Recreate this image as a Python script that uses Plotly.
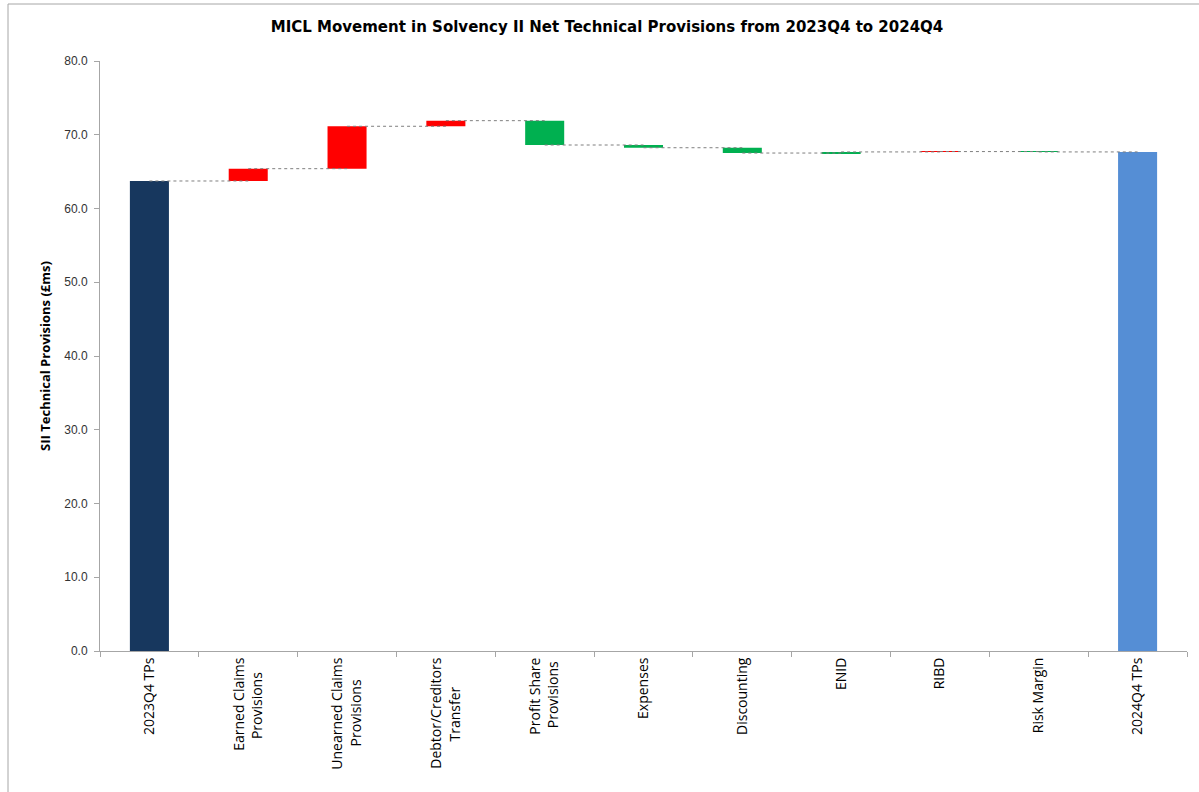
import plotly.graph_objects as go

# ---- data ----
categories = ["2023Q4 TPs", "Earned Claims|Provisions", "Unearned Claims|Provisions",
              "Debtor/Creditors|Transfer", "Profit Share|Provisions", "Expenses",
              "Discounting", "ENID", "RIBD", "Risk Margin", "2024Q4 TPs"]
start_value = 63.73
movements = [1.67, 5.75, 0.76, -3.30, -0.37, -0.72, 0.15, 0.05, -0.05]
movement_colors = ["#FF0000", "#FF0000", "#FF0000", "#00B050", "#00B050",
                   "#00B050", "#00B050", "#FF0000", "#00B050"]
start_color = "#17375E"
end_color = "#558ED5"
y_ticks = [0, 10, 20, 30, 40, 50, 60, 70, 80]

# padding (non-breaking spaces) so that two-line rotated labels appear centred
second_line_pad = [0, 4, 6, 8, 1, 0, 0, 0, 0, 0, 0]

def tick_label(lbl, pad):
    parts = lbl.split("|")
    if len(parts) == 1:
        return parts[0]
    return parts[0] + "<br>" + parts[1] + "\u00a0" * pad

tick_text = [tick_label(c, p) for c, p in zip(categories, second_line_pad)]

# ---- waterfall geometry from data ----
levels = [start_value]
for m in movements:
    levels.append(levels[-1] + m)
end_value = levels[-1]

bar_base, bar_height, bar_color = [0], [start_value], [start_color]
for i, m in enumerate(movements):
    bar_base.append(min(levels[i], levels[i + 1]))
    bar_height.append(abs(m))
    bar_color.append(movement_colors[i])
bar_base.append(0)
bar_height.append(end_value)
bar_color.append(end_color)

fig = go.Figure()
fig.add_trace(go.Bar(x=categories, y=bar_height, base=bar_base,
                     marker=dict(color=bar_color, line=dict(width=0)),
                     hoverinfo="skip", showlegend=False))

for i in range(len(categories) - 1):
    fig.add_trace(go.Scatter(x=[categories[i], categories[i + 1]],
                             y=[levels[min(i, len(levels) - 1)]] * 2,
                             mode="lines", line=dict(color="#7F7F7F", width=1, dash="dot"),
                             hoverinfo="skip", showlegend=False))

W, H = 1199, 792
L, R, T, B = 100, 12, 61, 141
pw, ph = W - L - R, H - T - B

fig.update_layout(
    width=W, height=H,
    margin=dict(l=L, r=R, t=T, b=B, pad=0),
    paper_bgcolor="white", plot_bgcolor="white",
    bargap=0.605,
    title=dict(text="<b>MICL Movement in Solvency II Net Technical Provisions from 2023Q4 to 2024Q4</b>",
               x=607 / W, xanchor="center", y=1 - 27 / H, yanchor="middle",
               font=dict(family="DejaVu Sans", size=15, color="black")),
    font=dict(family="Liberation Sans", color="#333333"),
    xaxis=dict(type="category", showline=True, linecolor="#A6A6A6", linewidth=1,
               ticks="outside", ticklen=5, tickcolor="#A6A6A6", tickson="boundaries",
               tickvals=categories, ticktext=tick_text,
               tickangle=-90, tickfont=dict(family="Open Sans", size=14, color="black"),
               showgrid=False, zeroline=False, fixedrange=True),
    yaxis=dict(range=[0, 80], tickvals=y_ticks, ticktext=[f"{v:.1f}" for v in y_ticks],
               showline=True, linecolor="#A6A6A6", linewidth=1, ticks="outside",
               ticklen=5, tickcolor="#A6A6A6", showgrid=False, zeroline=False,
               ticklabelstandoff=4,
               tickfont=dict(family="Liberation Sans", size=12, color="#333333"),
               title=dict(text="<b>SII Technical Provisions (£ms)</b>", standoff=10,
                          font=dict(family="Open Sans", size=13, color="black"))),
    shapes=[dict(type="rect", xref="paper", yref="paper",
                 x0=(8 - L) / pw, x1=(W + 5 - L) / pw,
                 y0=-(H + 5 - T - ph) / ph, y1=1 + (T - 4) / ph,
                 line=dict(color="#A6A6A6", width=1), fillcolor="rgba(0,0,0,0)", layer="below")],
)

fig.write_html("out.html")
